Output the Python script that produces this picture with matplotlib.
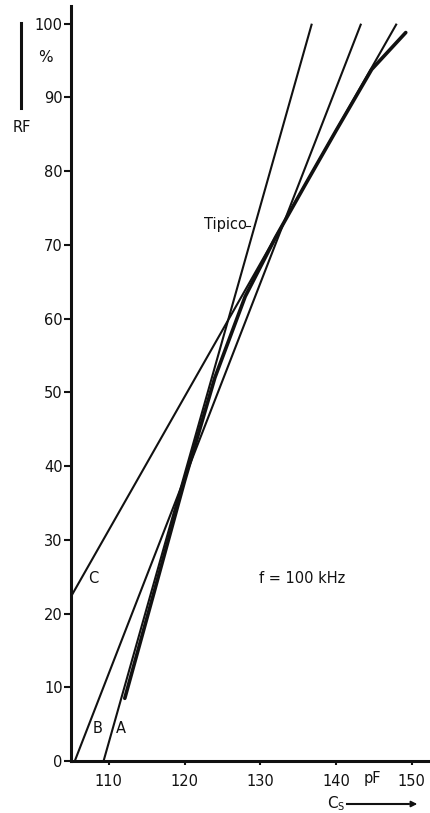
import matplotlib
matplotlib.use("Agg")
import matplotlib.pyplot as plt
from matplotlib.lines import Line2D

plt.rcParams['font.family'] = ['Liberation Sans Narrow', 'DejaVu Sans']

# ---- data (C_S in pF, RF in %) ----
line_a_x = [109.3, 136.8]
line_a_y = [0, 100]
line_b_x = [105.5, 143.3]
line_b_y = [0, 100]
line_c_x = [105.0, 148.0]
line_c_y = [22.3, 100]
typ_x = [112.1, 116, 120, 124, 128, 132, 136, 140, 144.7, 149.2]
typ_y = [8.5, 23, 38, 52, 63, 71, 78.3, 85.5, 93.8, 98.8]

x_ticks = [110, 120, 130, 140, 150]
y_ticks = [0, 10, 20, 30, 40, 50, 60, 70, 80, 90, 100]

W, H = 430, 813
fig = plt.figure(figsize=(W / 100, H / 100), dpi=100)
ax = fig.add_axes([71 / W, 52 / H, 359 / W, 755 / H])

ink = '#111111'
ax.plot(line_a_x, line_a_y, color=ink, lw=1.5, solid_capstyle='butt')
ax.plot(line_b_x, line_b_y, color=ink, lw=1.5, solid_capstyle='butt')
ax.plot(line_c_x, line_c_y, color=ink, lw=1.5, solid_capstyle='butt')
ax.plot(typ_x, typ_y, color=ink, lw=2.6, solid_capstyle='round')

ax.set_xlim(105, 152.4)
ax.set_ylim(0, 102.4)
for s in ['top', 'right']:
    ax.spines[s].set_visible(False)
for s in ['left', 'bottom']:
    ax.spines[s].set_linewidth(2.2)
    ax.spines[s].set_color(ink)

ax.set_xticks(x_ticks)
ax.set_xticklabels([str(v) for v in x_ticks])
ax.set_yticks(y_ticks)
ax.set_yticklabels([str(v) for v in y_ticks])
ax.tick_params(axis='y', direction='out', length=5, width=1.5, pad=1,
               labelsize=10.5, colors=ink)
ax.tick_params(axis='x', direction='out', length=3, width=1.5, pad=6,
               labelsize=10.5, colors=ink)

def ft(px, py, s, **kw):
    fig.text(px / W, 1 - py / H, s, color=ink, ha='center', va='center', **kw)

# curve labels
ft(121, 728, 'A', fontsize=10.5)
ft(98, 728, 'B', fontsize=10.5)
ft(93, 578, 'C', fontsize=10.5)
ft(225, 225, 'Tipico', fontsize=10.5)
fig.add_artist(Line2D([246 / W, 250 / W], [1 - 226 / H, 1 - 226 / H],
                      color=ink, lw=0.8))
ft(302, 578, 'f = 100 kHz', fontsize=10.5)

# axis annotations
ft(45, 58, '%', fontsize=11)
ft(22, 128, 'RF', fontsize=10.5)
fig.add_artist(Line2D([21 / W, 21 / W], [1 - 108 / H, 1 - 23 / H],
                      color=ink, lw=2.2))
ft(372, 778, 'pF', fontsize=10.5)
ft(332, 803, 'C', fontsize=11)
ft(340, 807, 'S', fontsize=7)
fig.add_artist(Line2D([347 / W, 408 / W], [1 - 804 / H, 1 - 804 / H],
                      color=ink, lw=1.5))
ax.annotate('', xy=(420 / W, 1 - 804 / H), xytext=(400 / W, 1 - 804 / H),
            xycoords='figure fraction', textcoords='figure fraction',
            arrowprops=dict(arrowstyle='-|>', color=ink, lw=1.2,
                            mutation_scale=9))

fig.savefig('out.png', dpi=100)
